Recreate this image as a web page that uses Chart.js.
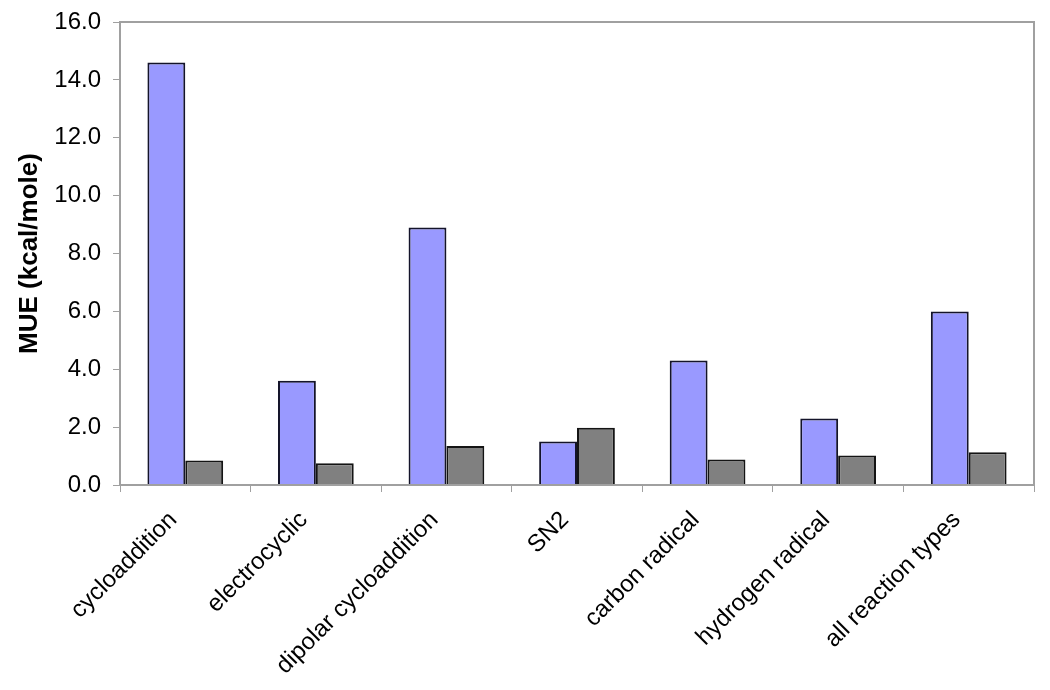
<!DOCTYPE html>
<html>
<head>
  <title>MUE by reaction type</title>
  <script src="https://cdn.jsdelivr.net/npm/chart.js"></script>
  <style>
    body { margin: 0; background: #fff; }
  </style>
</head>
<body>
  <canvas id="mueChart" width="1050" height="690"></canvas>

  <script>
    // Data
    const categories = ['cycloaddition', 'electrocyclic', 'dipolar cycloaddition', 'SN2',
                        'carbon radical', 'hydrogen radical', 'all reaction types'];
    const seriesA = [14.6, 3.6, 8.9, 1.5, 4.3, 2.3, 6.0];
    const seriesB = [0.85, 0.75, 1.35, 1.98, 0.88, 1.02, 1.13];
    const yTicks = [0, 2, 4, 6, 8, 10, 12, 14, 16];

    // Box round the plot area
    const frame = {
      id: 'frame',
      afterDraw(chart) {
        const a = chart.chartArea;
        const ctx = chart.ctx;
        ctx.save();
        ctx.strokeStyle = '#a0a0a0';
        ctx.lineWidth = 2;
        ctx.strokeRect(a.left, a.top, a.right - a.left, a.bottom - a.top);
        ctx.restore();
      }
    };

    const ctx = document.getElementById('mueChart').getContext('2d');
    new Chart(ctx, {
      type: 'bar',
      data: {
        labels: categories,
        datasets: [{
          data: seriesA,
          backgroundColor: '#9999ff',
          borderColor: '#14142a',
          borderWidth: 2
        }, {
          data: seriesB,
          backgroundColor: '#808080',
          borderColor: '#141414',
          borderWidth: 2
        }]
      },
      options: {
        responsive: false,
        animation: false,
        layout: { padding: { top: 22, right: 16, left: 0, bottom: 0 } },
        datasets: { bar: { categoryPercentage: 0.58, barPercentage: 1.0 } },
        plugins: { legend: { display: false }, tooltip: { enabled: false } },
        scales: {
          x: {
            afterFit(scale) { scale.height = 205; },
            grid: { offset: true, drawOnChartArea: false, color: '#a0a0a0', tickLength: 7 },
            border: { color: '#a0a0a0', width: 2 },
            ticks: {
              maxRotation: 45, minRotation: 45,
              color: '#000',
              padding: 14,
              labelOffset: -12,
              font: { family: 'Liberation Sans', size: 24 }
            }
          },
          y: {
            min: 0, max: 16,
            afterFit(scale) {
              scale.width = 120;
              scale.paddingTop = 0;
              scale.paddingBottom = 0;
            },
            afterBuildTicks(scale) { scale.ticks = yTicks.map(v => ({ value: v })); },
            grid: { drawOnChartArea: false, color: '#a0a0a0', tickLength: 7 },
            border: { color: '#a0a0a0', width: 2 },
            title: {
              display: true,
              text: 'MUE (kcal/mole)',
              color: '#000',
              padding: { top: 14, bottom: 0 },
              font: { family: 'Liberation Sans', size: 26, weight: 'bold' }
            },
            ticks: {
              color: '#000',
              padding: 12,
              font: { family: 'Liberation Sans', size: 24 },
              callback: v => v.toFixed(1)
            }
          }
        }
      },
      plugins: [frame]
    });
  </script>
</body>
</html>
